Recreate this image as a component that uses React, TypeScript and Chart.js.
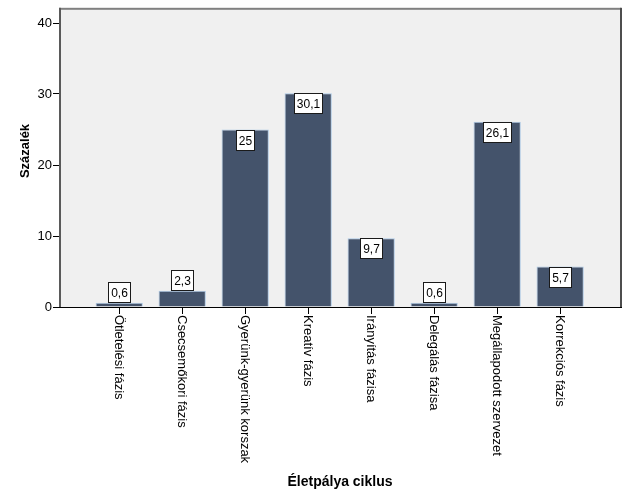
import React, { useEffect, useRef } from "react";
import { Chart, registerables } from "chart.js";

Chart.register(...registerables);

const categories = [
  "Ötletelési fázis",
  "Csecsemőkori fázis",
  "Gyerünk-gyerünk korszak",
  "Kreatív fázis",
  "Irányítás fázisa",
  "Delegálás fázisa",
  "Megállapodott szervezet",
  "Korrekciós fázis",
];
const values = [0.6, 2.3, 25, 30.1, 9.7, 0.6, 26.1, 5.7];
const yTicks = [0, 10, 20, 30, 40];
const yTitle = "Százalék";
const xTitle = "Életpálya ciklus";

const FONT = '"Liberation Sans", Arial, sans-serif';

const fmt = (v: number) => String(v).replace(".", ",");

const decorPlugin = {
  id: "decor",
  beforeDraw(chart: any) {
    const { ctx, chartArea: a } = chart;
    ctx.save();
    ctx.fillStyle = "#F0F0F0";
    ctx.fillRect(a.left, a.top, a.right - a.left, a.bottom - a.top);
    ctx.restore();
  },
  afterDatasetsDraw(chart: any) {
    const { ctx, chartArea: a } = chart;
    ctx.save();
    // frame
    ctx.fillStyle = "#808080";
    ctx.fillRect(a.left - 1, a.top - 1, a.right - a.left + 2, 2);
    ctx.fillStyle = "#4D4D4D";
    ctx.fillRect(a.right, a.top - 1, 2, a.bottom - a.top + 1);
    ctx.fillStyle = "#5A5A5A";
    ctx.fillRect(a.left - 1, a.top - 1, 2, a.bottom - a.top + 1);
    ctx.fillStyle = "#000000";
    ctx.fillRect(a.left - 1, a.bottom, a.right - a.left + 3, 1);

    // value labels
    const meta = chart.getDatasetMeta(0);
    ctx.font = `12px ${FONT}`;
    ctx.textAlign = "center";
    ctx.textBaseline = "middle";
    meta.data.forEach((bar: any, i: number) => {
      const txt = fmt(values[i]);
      const w = Math.round(ctx.measureText(txt).width) + 6;
      const h = 21;
      const barH = bar.base - bar.y;
      const top = barH >= h ? Math.round(bar.y) : Math.round(bar.y) - h;
      const left = Math.round(bar.x - w / 2);
      ctx.fillStyle = "#FFFFFF";
      ctx.fillRect(left, top, w, h);
      ctx.strokeStyle = "#1A1A1A";
      ctx.lineWidth = 1;
      ctx.strokeRect(left + 0.5, top + 0.5, w - 1, h - 1);
      ctx.fillStyle = "#000000";
      ctx.fillText(txt, left + w / 2, top + h / 2 + 1);
    });

    // x category labels (rotated clockwise)
    const xs = chart.scales.x;
    ctx.font = `13px ${FONT}`;
    ctx.textAlign = "left";
    ctx.textBaseline = "middle";
    ctx.fillStyle = "#000000";
    categories.forEach((c, i) => {
      const px = xs.getPixelForValue(i);
      ctx.save();
      ctx.translate(px - 1, a.bottom + 8);
      ctx.rotate(Math.PI / 2);
      ctx.fillText(c, 0, 0);
      ctx.restore();
    });

    // axis titles
    ctx.font = `bold 14px ${FONT}`;
    ctx.textAlign = "center";
    ctx.textBaseline = "middle";
    ctx.fillText(xTitle, (a.left + a.right) / 2, 482);
    ctx.save();
    ctx.font = `bold 13px ${FONT}`;
    ctx.translate(25, 151);
    ctx.rotate(-Math.PI / 2);
    ctx.fillText(yTitle, 0, 0);
    ctx.restore();
    ctx.restore();
  },
};

export default function App() {
  const ref = useRef<HTMLCanvasElement | null>(null);
  useEffect(() => {
    if (!ref.current) return;
    const chart = new Chart(ref.current, {
      type: "bar",
      data: {
        datasets: [
          {
            data: values.map((v, i) => ({ x: i, y: v })) as any,
            backgroundColor: "#44536B",
            borderColor: "#A9C6E4",
            borderWidth: 1,
            categoryPercentage: 1,
            barPercentage: 0.75,
          },
        ],
      },
      options: {
        animation: false,
        responsive: false,
        devicePixelRatio: 1,
        layout: { padding: { top: 7, right: 9, left: 0, bottom: 0 } },
        plugins: { legend: { display: false }, tooltip: { enabled: false } },
        scales: {
          x: {
            type: "linear",
            min: -0.94,
            max: 7.95,
            offset: false,
            afterBuildTicks: (s: any) => {
              s.ticks = categories.map((_, i) => ({ value: i }));
            },
            afterFit: (s: any) => {
              s.height = 197;
            },
            ticks: { display: false },
            grid: {
              offset: false,
              drawOnChartArea: false,
              drawTicks: true,
              tickLength: 7,
              color: "#000000",
              lineWidth: 1,
            },
            border: { display: false },
          },
          y: {
            type: "linear",
            min: 0,
            max: 42,
            afterBuildTicks: (s: any) => {
              s.ticks = yTicks.map((v) => ({ value: v }));
            },
            afterFit: (s: any) => {
              s.width = 60;
            },
            ticks: {
              color: "#000000",
              font: { family: FONT, size: 13 },
              padding: 1,
            },
            grid: {
              drawOnChartArea: false,
              drawTicks: true,
              tickLength: 7,
              color: "#000000",
              lineWidth: 1,
            },
            border: { display: false },
          },
        },
      },
      plugins: [decorPlugin],
    });
    return () => chart.destroy();
  }, []);
  return (
    <div style={{ position: "absolute", left: 0, top: 0, width: 629, height: 504, background: "#FFFFFF" }}>
      <canvas ref={ref} width={629} height={504} style={{ width: 629, height: 504 }} />
    </div>
  );
}
